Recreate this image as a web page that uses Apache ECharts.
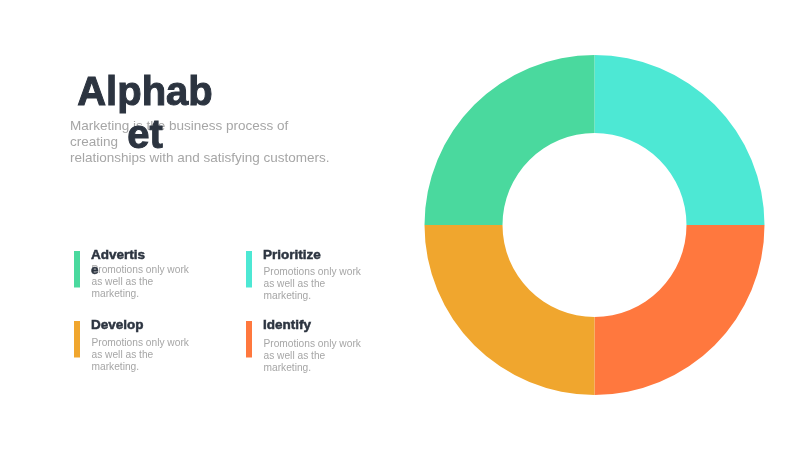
<!DOCTYPE html>
<html>
<head>
<meta charset="utf-8">
<script src="https://cdn.jsdelivr.net/npm/echarts@6/dist/echarts.min.js"></script>
<style>
html,body{margin:0;padding:0;background:#ffffff;}
#chart{width:800px;height:450px;}
</style>
</head>
<body>
<div id="chart"></div>
<script>
// ---- data ----
const headline = 'Alphab\net';
const intro = 'Marketing is the business process of\ncreating\nrelationships with and satisfying customers.';
const names = ['Advertise', 'Prioritize', 'Develop', 'Identify'];
const nameLines = ['Advertis\ne', 'Prioritize', 'Develop', 'Identify'];
const shares = [25, 25, 25, 25];
const colors = ['#4ad99e', '#4de8d4', '#f0a62e', '#ff783e'];
const descText = 'Promotions only work\nas well as the\nmarketing.';
const pieOrder = [1, 3, 2, 0]; // clockwise from 12 o'clock

// ---- layout (styles/positions only) ----
const dark = '#2c3440';
const grey = '#a6a6a6';
const font = '"Liberation Sans", Arial, Helvetica, sans-serif';
const colX = [74, 246];
const rowY = [251, 321];
const descTop = [[264.5, 336.7], [266.5, 338]];

const graphics = [];
graphics.push({
  type: 'text', x: 145, y: 72.5, z: 10,
  style: { text: headline, fontFamily: font, fontSize: 40, fontWeight: 'bold',
           fill: dark, stroke: dark, lineWidth: 1.0,
           align: 'center', verticalAlign: 'top', lineHeight: 43 }
});
graphics.push({
  type: 'text', x: 70, y: 118.5, z: 5,
  style: { text: intro, fontFamily: font, fontSize: 13.5, fill: grey,
           align: 'left', verticalAlign: 'top', lineHeight: 16 }
});
names.forEach(function (n, i) {
  const c = i % 2, r = Math.floor(i / 2);
  graphics.push({
    type: 'rect', shape: { x: colX[c], y: rowY[r], width: 6, height: 36.5 },
    style: { fill: colors[i] }
  });
  graphics.push({
    type: 'text', x: colX[c] + 17, y: rowY[r] - 3, z: 10,
    style: { text: nameLines[i], fontFamily: font, fontSize: 13.5, fontWeight: 'bold',
             fill: dark, stroke: dark, lineWidth: 0.5,
             align: 'left', verticalAlign: 'top', lineHeight: 15 }
  });
  graphics.push({
    type: 'text', x: colX[c] + 17.5, y: descTop[c][r], z: 5,
    style: { text: descText, fontFamily: font, fontSize: 10.2, fill: grey,
             align: 'left', verticalAlign: 'top', lineHeight: 12 }
  });
});

const chart = echarts.init(document.getElementById('chart'), null, { renderer: 'canvas' });
chart.setOption({
  backgroundColor: '#ffffff',
  animation: false,
  graphic: graphics,
  series: [{
    type: 'pie',
    center: [594.5, 225],
    radius: [92, 170],
    startAngle: 90,
    clockwise: true,
    label: { show: false },
    labelLine: { show: false },
    silent: true,
    itemStyle: { borderWidth: 0 },
    data: pieOrder.map(function (k) {
      return { name: names[k], value: shares[k], itemStyle: { color: colors[k] } };
    })
  }]
});
</script>
</body>
</html>
